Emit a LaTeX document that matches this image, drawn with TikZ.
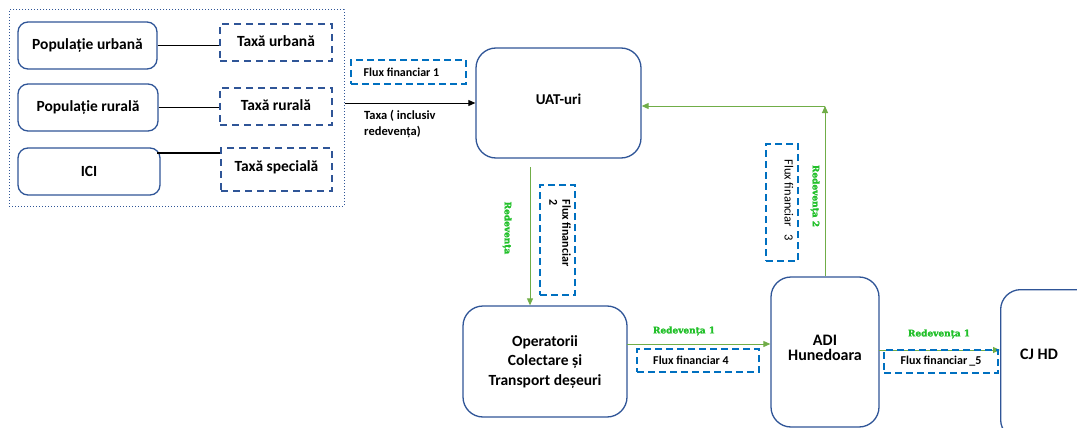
\documentclass[tikz,border=0pt]{standalone}
\usepackage{fontspec}
\setmainfont{Carlito}
\newfontfamily\grfont{DejaVu Serif}[BoldFeatures={FakeBold=2}]
\usetikzlibrary{arrows.meta,calc}
\definecolor{boxblue}{HTML}{2F5597}
\definecolor{fluxblue}{HTML}{0070C0}
\definecolor{lgreen}{HTML}{70AD47}
\definecolor{tgreen}{HTML}{22C02A}
\tikzset{
  mainbox/.style={draw=boxblue,line width=1.3pt,rounded corners=10pt,font=\bfseries\fontsize{15.5}{18}\selectfont,align=center,inner sep=0pt},
  bigbox/.style={mainbox,rounded corners=20pt},
  taxbox/.style={draw=boxblue,line width=1.2pt,dash pattern=on 7pt off 5pt,font=\bfseries\fontsize{15.5}{18}\selectfont,align=center,inner sep=0pt},
  fluxbox/.style={draw=fluxblue,line width=1.4pt,dash pattern=on 7pt off 4pt,font=\bfseries\fontsize{12}{14}\selectfont,align=center,inner sep=0pt},
  grlabel/.style={text=tgreen,font=\grfont\bfseries\fontsize{9}{10}\selectfont,inner sep=0pt},
  garrow/.style={draw=lgreen,line width=0.9pt,-{Triangle[length=7pt,width=6pt]}},
  plain/.style={draw=black,line width=1.2pt},
}
\begin{document}
\begin{tikzpicture}[x=1pt,y=-1pt]
\useasboundingbox (0,0) rectangle (1077,428);
\clip (0,0) rectangle (1077,428);
% frame
\node[draw=boxblue,line width=1pt,dotted,minimum width=335pt,minimum height=196pt,inner sep=0pt] (frame) at (176.5,108) {};
% left boxes
\node[mainbox,minimum width=139pt,minimum height=47pt] (pu) at (87.5,45.5) {\raisebox{2pt}{Populație urbană}};
\node[mainbox,minimum width=140pt,minimum height=47pt] (pr) at (88,107.5) {Populație rurală};
\node[mainbox,minimum width=142pt,minimum height=47pt] (ici) at (89,171.5) {ICI};
\node[taxbox,minimum width=112pt,minimum height=37pt] (tu) at (276,42.5) {\raisebox{3pt}{Taxă urbană}};
\node[taxbox,minimum width=112pt,minimum height=37pt] (tr) at (276,106.5) {\raisebox{3pt}{Taxă rurală}};
\node[taxbox,minimum width=111pt,minimum height=43pt] (ts) at (276.5,169.5) {\raisebox{6pt}{Taxă specială}};
\draw[plain] (pu.east) -- (pu.east -| tu.west);
\draw[plain] (pr.east) -- (pr.east -| tr.west);
\coordinate (icis) at (157,153);
\draw[plain] (icis) -- (icis -| ts.west);
% UAT
\node[bigbox,minimum width=165pt,minimum height=110pt,font=\bfseries\fontsize{15}{18}\selectfont] (uat) at (558.5,103) {\raisebox{8pt}{UAT-uri}};
\node[fluxbox,minimum width=115pt,minimum height=24pt] (f1) at (408.5,72) {\hspace*{-14pt}\raisebox{-2pt}{Flux financiar 1}};
\draw[line width=0.9pt,-{Triangle[length=7pt,width=6pt]}] (frame.east |- uat.west) -- (uat.west);
\node[font=\bfseries\fontsize{12.5}{16}\selectfont,align=left,anchor=north west,inner sep=0pt] (tx) at (364,110) {Taxa ( inclusiv\\redevența)};
% Operatori
\node[bigbox,minimum width=164pt,minimum height=111pt,font=\bfseries\fontsize{15.5}{19.5}\selectfont] (op) at (545,361.5) {Operatorii\\Colectare și\\Transport deșeuri};
\coordinate (d1) at (530,167);
\draw[garrow] (d1) -- (d1 |- op.north);
\node[grlabel,rotate=-90] (r0) at (507,228) {Redevența};
\node[fluxbox,minimum width=35pt,minimum height=110pt] (f2) at (557.5,240) {};
\node[rotate=-90,font=\bfseries\fontsize{12}{13}\selectfont,align=left,inner sep=0pt] (f2t) at (560,233) {Flux financiar\\2};
% ADI
\node[bigbox,minimum width=108pt,minimum height=150pt,font=\bfseries\fontsize{16}{21}\selectfont] (adi) at (825,352) {\raisebox{8pt}{\shortstack{ADI\\[1pt]Hunedoara}}};
\coordinate (a1) at (627,344);
\draw[garrow] (a1) -- (a1 -| adi.west);
\node[grlabel] (r1) at (684,331) {Redevența 1};
\node[fluxbox,minimum width=122pt,minimum height=23pt] (f4) at (698,360.5) {\hspace*{-14pt}Flux financiar 4};
% up arrow ADI -> UAT
\coordinate (up) at (825,106);
\draw[garrow] (adi.north) -- (up);
\draw[garrow] (up) -- (up -| uat.east);
\node[grlabel,rotate=-90] (r2) at (815,196) {Redevența 2};
\node[fluxbox,minimum width=32pt,minimum height=117pt] (f3) at (782,202.5) {};
\node[rotate=-90,font=\fontsize{12.5}{14}\selectfont,inner sep=0pt] (f3t) at (789,200) {Flux financiar\hspace{7pt}3};
% CJ HD
\node[bigbox,minimum width=100pt,minimum height=150pt,anchor=north west] (cj) at (1000,289) {};
\node[font=\bfseries\fontsize{16}{19}\selectfont,inner sep=0pt] (cjt) at (1039,354) {CJ HD};
\coordinate (a2) at (879,350);
\draw[garrow] (a2) -- (a2 -| cj.west);
\node[grlabel] (r3) at (939,334) {Redevența 1};
\node[fluxbox,minimum width=114pt,minimum height=23pt] (f5) at (941,361.5) {\raisebox{-2pt}{Flux financiar\,\_5}};
\end{tikzpicture}
\end{document}
